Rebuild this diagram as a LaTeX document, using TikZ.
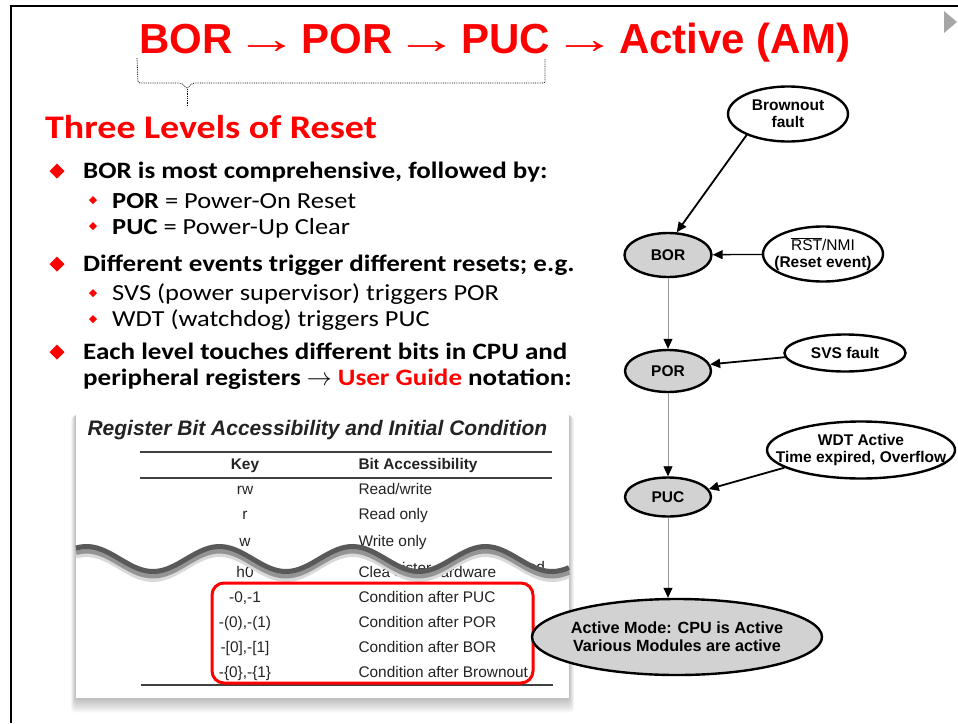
\documentclass[tikz,border=0pt]{standalone}
\usepackage{graphicx}
\usepackage{fontspec}
\setmainfont{Carlito}[FakeStretch=1.15]
\newfontfamily\arialf{Liberation Sans}
\usetikzlibrary{shapes.geometric,arrows.meta}

\definecolor{slidered}{RGB}{255,0,0}
\definecolor{tabtext}{RGB}{35,35,35}
\definecolor{nodegray}{RGB}{210,210,210}

\newcommand{\ttlarrow}{\kern3pt{\mdseries\scalebox{1.5}[1]{→}}\kern3pt}

\tikzset{
	event/.style={ellipse, draw, line width=2.4pt, fill=white, inner sep=0pt},
	reset/.style={event, fill=nodegray},
	evtext/.style={font=\arialf\bfseries\fontsize{15.5}{17}\selectfont, align=center},
	trig/.style={-{Triangle[length=10pt,width=9pt]}, line width=1.8pt},
	flow/.style={draw=black!40, line width=0.8pt, -{Triangle[length=10pt,width=9pt,color=black]}},
	head/.style={anchor=base west, inner sep=0pt, font=\bfseries\fontsize{23.5}{26}\selectfont},
	item/.style={anchor=base west, inner sep=0pt, font=\fontsize{23}{26}\selectfont},
	tabcell/.style={anchor=base, text=tabtext, font=\arialf\fontsize{15.4}{18}\selectfont},
	tabhead/.style={tabcell, font=\arialf\bfseries\fontsize{15.4}{18}\selectfont}
}

\begin{document}
\begin{tikzpicture}[x=1pt, y=-1pt]
	\useasboundingbox (0,0) rectangle (958,723);
	% slide frame
	\draw[line width=2.5pt] (11,723) -- (11,6) -- (958,6);
	\fill[black!35] (944,11) -- (957,22) -- (944,33) -- cycle;

	% title and brace
	\node[anchor=base west, inner sep=0pt, text=slidered, font=\arialf\bfseries\fontsize{42}{48}\selectfont]
		(title) at (139,53) {BOR\ttlarrow POR\ttlarrow PUC\ttlarrow Active (AM)};
	\draw[densely dotted, line width=0.8pt, rounded corners=2pt]
		(137,58) -- (138,83) -- (182,83) -- (187,89) -- (192,83) -- (545,83) -- (545,58);
	\draw[densely dotted, line width=0.8pt] (187,89) -- (187,107);

	% bullet list
	\node[anchor=base west, inner sep=0pt, text=slidered, font=\bfseries\fontsize{33}{38}\selectfont]
		(levels) at (45,138) {Three Levels of Reset};
	\foreach \y in {171,264,352}
		\fill[slidered] (57,\y) +(-7.5,0) -- +(0,-7.5) -- +(7.5,0) -- +(0,7.5) -- cycle;
	\foreach \y in {200,226,293,319}
		\fill[slidered] (93,\y) +(-4,0) -- +(0,-4) -- +(4,0) -- +(0,4) -- cycle;
	\node[head] (b1) at (83,178) {BOR is most comprehensive, followed by:};
	\node[item] (s1) at (112,208) {\textbf{POR} = Power-On Reset};
	\node[item] (s2) at (112,234) {\textbf{PUC} = Power-Up Clear};
	\node[head] (b2) at (83,271) {Different events trigger different resets; e.g.};
	\node[item] (s3) at (112,300) {SVS (power supervisor) triggers POR};
	\node[item] (s4) at (112,326) {WDT (watchdog) triggers PUC};
	\node[head, align=left] (b3) at (83,385) {Each level touches different bits in CPU and\\
		peripheral registers $\rightarrow$ \textcolor{slidered}{User Guide} notation:};

	% register table
	\foreach \k in {1,...,8}
		\fill[black, opacity=0.035, rounded corners=4pt]
			(76-0.6*\k,412+0.5*\k) rectangle (569+0.6*\k,698+1.8*\k);
	\fill[white] (76,412) rectangle (569,698);
	\node[anchor=base west, text=tabtext, font=\arialf\bfseries\itshape\fontsize{21}{24}\selectfont]
		(tabtitle) at (84,435) {Register Bit Accessibility and Initial Condition};
	\draw[line width=1.4pt, black!75] (140,452) -- (552,452);
	\draw[line width=1.4pt, black!75] (140,478) -- (552,478);
	\draw[line width=1.4pt, black!75] (141,685) -- (553,685);
	\node[tabhead] (khead) at (245,469) {Key};
	\node[tabhead, anchor=base west] (dhead) at (355,469) {Bit Accessibility};
	\foreach \k/\d/\y [count=\i] in {rw/{Read/write}/494, r/{Read only}/519, w/{Write only}/546,
			{-0,-1}/{Condition after PUC}/602, {-(0),-(1)}/{Condition after POR}/627,
			{-[0],-[1]}/{Condition after BOR}/652, {-\{0\},-\{1\}}/{Condition after Brownout}/677} {
		\node[tabcell] (key\i) at (245,\y) {\k};
		\node[tabcell, anchor=base west] (desc\i) at (355,\y) {\d};
	}
	\node[tabcell] (keyh) at (245,577) {h0};
	\node[tabcell, anchor=base west] (frag1) at (355,577) {Clea};
	\node[tabcell, anchor=base west] (frag2) at (390,573) {gister};
	\node[tabcell, anchor=base west] (frag3) at (437,577) {ardware};
	\node[tabcell, anchor=base west] (frag4) at (520,572) {ted};
	% torn edge
	\draw[black!15, line width=5pt] plot[domain=76:569, samples=120]
		(\x, {567+12.5*cos((\x-153)*2.707)});
	\draw[black!42, line width=6pt] plot[domain=76:569, samples=120]
		(\x, {563+12.5*cos((\x-153)*2.707)});
	\draw[black!65, line width=5pt] plot[domain=76:569, samples=120]
		(\x, {559+12.5*cos((\x-153)*2.707)});
	\draw[slidered, line width=3pt, rounded corners=12pt] (212,583) rectangle (533,683);

	% reset diagram
	\node[event, minimum width=120pt, minimum height=55pt,
		label={[evtext]center:{Brownout\\fault}}] (brown) at (788,114) {};
	\node[reset, minimum width=87pt, minimum height=44pt,
		label={[evtext]center:BOR}] (bor) at (668,255) {};
	\node[event, minimum width=120pt, minimum height=55pt,
		label={[evtext]center:{{\mdseries$\overline{\hbox{RST}}$/NMI}\\(Reset event)}}] (rstn) at (823,254) {};
	\node[reset, minimum width=86pt, minimum height=42pt,
		label={[evtext]center:POR}] (por) at (668,371) {};
	\node[event, minimum width=121pt, minimum height=37pt,
		label={[evtext]center:SVS fault}] (svs) at (845,353) {};
	\node[reset, minimum width=86pt, minimum height=39pt,
		label={[evtext]center:PUC}] (puc) at (668,497) {};
	\node[event, minimum width=188pt, minimum height=57pt,
		label={[evtext]center:{WDT Active\\Time expired, Overflow}}] (wdt) at (861,450) {};
	\node[reset, minimum width=290pt, minimum height=76pt,
		label={[evtext, font=\arialf\bfseries\fontsize{16.2}{18}\selectfont]center:{Active Mode: CPU is Active\\Various Modules are active}}] (act) at (677,637) {};

	\draw[trig] (brown.207) -- (bor.69);
	\draw[trig, line width=1.3pt] (rstn) -- (bor);
	\draw[trig] (svs.184) -- (por.9);
	\draw[trig] (wdt.193) -- (puc.11);
	\draw[flow] (bor) -- (por);
	\draw[flow] (por) -- (puc);
	\draw[flow] (puc) -- (puc |- act.north);
\end{tikzpicture}
\end{document}
